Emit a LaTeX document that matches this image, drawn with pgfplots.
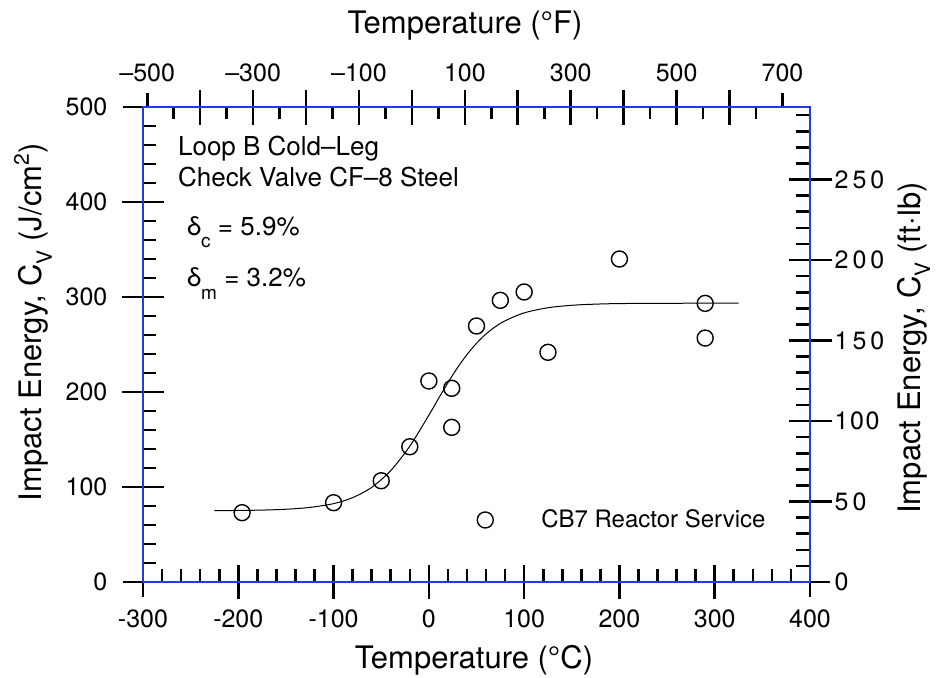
\documentclass[border=0pt]{standalone}
\usepackage{fontspec}
\setmainfont{TeX Gyre Heros}
\usepackage{pgfplots}
\pgfplotsset{compat=1.18}
\definecolor{frameblue}{RGB}{30,60,225}
\newcommand\fs[1]{\fontsize{#1}{#1}\selectfont}
\pgfplotsset{
  base/.style={
    scale only axis, width=333.5pt, height=237.5pt,
    at={(0pt,0pt)}, anchor=south west,
    axis line style={frameblue, line width=1pt},
    tick style={black, line width=1.3pt},
    /pgf/number format/assume math mode=true,
    tick label style={font=\fs{12.5}},
    minor tick num=0,
  },
  cel/.style={xmin=-300, xmax=400, ymin=0, ymax=500},
  fah/.style={xmin=-508, xmax=752, ymin=0, ymax=1},
  ftlb/.style={xmin=0, xmax=1, ymin=0, ymax=295.04},
  nolab/.style={xticklabels={}, yticklabels={}},
}
\begin{document}
\begin{tikzpicture}
\path[use as bounding box] (-71.5pt,-47.5pt) rectangle (396.5pt,291pt);

% ---------- Celsius / J/cm2 ticks ----------
\begin{axis}[base, cel, xmajorticks=false, ymajorticks=false,
  minor xtick={-280,-260,-240,-220,-180,-160,-140,-120,-80,-60,-40,-20,20,40,60,80,120,140,160,180,220,240,260,280,320,340,360,380},
  minor ytick={20,40,60,80,120,140,160,180,220,240,260,280,320,340,360,380,420,440,460,480},
  xtick pos=left, ytick pos=left, tick align=inside, minor tick length=6.5pt]
\end{axis}
\begin{axis}[base, cel, nolab, xtick={-200,-100,...,300}, ytick=\empty,
  xtick pos=left, tick align=center, major tick length=17pt]
\end{axis}
\begin{axis}[base, cel, nolab, xtick={-300,400}, ytick=\empty,
  xtick pos=left, tick align=outside, major tick length=7.5pt]
\end{axis}
\begin{axis}[base, cel, nolab, xtick=\empty, ytick={100,200,300,400},
  ytick pos=left, tick align=center, major tick length=21pt]
\end{axis}
\begin{axis}[base, cel, nolab, xtick=\empty, ytick={0,500},
  ytick pos=left, tick align=outside, major tick length=10pt]
\end{axis}
% labels
\begin{axis}[base, cel, xtick={-300,-200,...,400}, ytick={0,100,...,500},
  xticklabels={-300,-200,-100,0,100,200,300,400},
  yticklabels={0,100,200,300,400,500},
  xtick pos=left, ytick pos=left, tick align=inside, major tick length=0pt,
  xticklabel style={yshift=-10.5pt}, yticklabel style={xshift=-14.3pt}]
\end{axis}

% ---------- Fahrenheit (top) ----------
\begin{axis}[base, fah, xmajorticks=false, ytick=\empty,
  minor xtick={-450,-350,...,650},
  xtick pos=right, tick align=inside, minor tick length=6pt]
\end{axis}
\begin{axis}[base, fah, nolab, xtick={-400,-300,...,600}, ytick=\empty,
  xtick pos=right, tick align=center, major tick length=17.5pt]
\end{axis}
\begin{axis}[base, fah, nolab, xtick={-500,700}, ytick=\empty,
  xtick pos=right, tick align=outside, major tick length=7pt]
\end{axis}
\begin{axis}[base, fah, xtick={-500,-400,...,700}, ytick=\empty,
  xticklabels={{–500},{},{–300},{},{–100},{},{100},{},{300},{},{500},{},{700}},
  xtick pos=right, xticklabel pos=right, tick align=inside, major tick length=0pt,
  xticklabel style={yshift=8.8pt}]
\end{axis}

% ---------- ft-lb (right) ----------
\begin{axis}[base, ftlb, xtick=\empty, ymajorticks=false,
  minor ytick={10,20,30,40,60,70,80,90,110,120,130,140,160,170,180,190,210,220,230,240,260,270,280,290},
  ytick pos=right, tick align=inside, minor tick length=7pt]
\end{axis}
\begin{axis}[base, ftlb, nolab, xtick=\empty, ytick={50,100,...,250},
  ytick pos=right, tick align=center, major tick length=21.5pt]
\end{axis}
\begin{axis}[base, ftlb, nolab, xtick=\empty, ytick={0},
  ytick pos=right, tick align=outside, major tick length=10pt]
\end{axis}
\begin{axis}[base, ftlb, xtick=\empty, ytick={0,50,...,250},
  yticklabels={0,5\hspace{2pt}0,1\hspace{0.8pt}0\hspace{0.8pt}0,1\hspace{2pt}5\hspace{2pt}0,2\hspace{2pt}0\hspace{2pt}0,2\hspace{2pt}5\hspace{2pt}0},
  ytick pos=right, yticklabel pos=right, tick align=inside, major tick length=0pt,
  yticklabel style={xshift=8.8pt}]
\end{axis}

% ---------- data ----------
\begin{axis}[base, cel, xtick=\empty, ytick=\empty,
  legend style={at={(axis cs:353.8,65.3)}, anchor=east, draw=none, fill=none,
    inner sep=0pt, font=\fs{12}, nodes={inner xsep=0pt},
    /tikz/every even column/.append style={column sep=0pt}},
  legend image code/.code={\draw[mark repeat=2,mark phase=2] plot coordinates {(-1pt,0pt)(0pt,0pt)(1pt,0pt)};
    \path[draw=none,fill=none] (-4.5pt,-1pt) rectangle (28pt,1pt);}
]
\addplot[black, line width=0.5pt, smooth, forget plot] coordinates {
(-225,75.1)(-200,75.3)(-175,75.7)(-150,76.6)(-125,78.5)(-100,82.5)(-80,88.8)(-60,99.6)
(-40,117.3)(-20,143.0)(0,175.6)(10,192.9)(20,209.8)(30,225.5)(40,239.4)(50,251.3)
(60,261.1)(70,268.9)(80,275.0)(100,283.3)(125,288.7)(150,291.3)(175,292.5)(200,293.1)
(250,293.4)(325,293.5)};
\addplot[only marks, mark=o, mark size=4pt, mark options={line width=0.7pt}, black] coordinates {
(-196,73)(-100,83.5)(-50,106.6)(-20,142.4)(0,211.6)(24,203.9)(24,162.8)(50,269.5)
(75,296.5)(100,305.3)(125,241.8)(200,340)(290,293.3)(290,256.8)};
\addlegendentry{CB7 Reactor Service}
\end{axis}

% axis titles
\node[anchor=base, font=\fs{15.5}] at (165.5pt,-43pt) {Temperature (°C)};
\node[anchor=base, font=\fs{15.5}] at (161pt,274.5pt) {Temperature (°F)};
\node[anchor=base, rotate=90, font=\fs{15.5}] at (-50.6pt,129.75pt)
  {Impact Energy, C\raisebox{-5pt}{\fs{10.5}V} (J/cm\raisebox{6.5pt}{\fs{10.5}2})};
\node[anchor=base, rotate=90, font=\fs{15.5}] at (388.5pt,117pt)
  {Impact Energy, C\raisebox{-5pt}{\fs{10.5}V} (ft·lb)};

% annotations
\node[anchor=base west, inner sep=0pt, font=\fs{13}] at (17.35pt,213.5pt) {Loop B Cold–Leg};
\node[anchor=base west, inner sep=0pt, font=\fs{13}] at (17.35pt,198pt) {Check Valve CF–8 Steel};
\node[anchor=base west, inner sep=0pt, font=\fs{13}] at (21.8pt,173.5pt) {δ\raisebox{-6pt}{\fs{9.5}c} = 5.9\%};
\node[anchor=base west, inner sep=0pt, font=\fs{13}] at (21.8pt,147.6pt) {δ\raisebox{-6.5pt}{\fs{9.5}m} = 3.2\%};
\end{tikzpicture}
\end{document}
